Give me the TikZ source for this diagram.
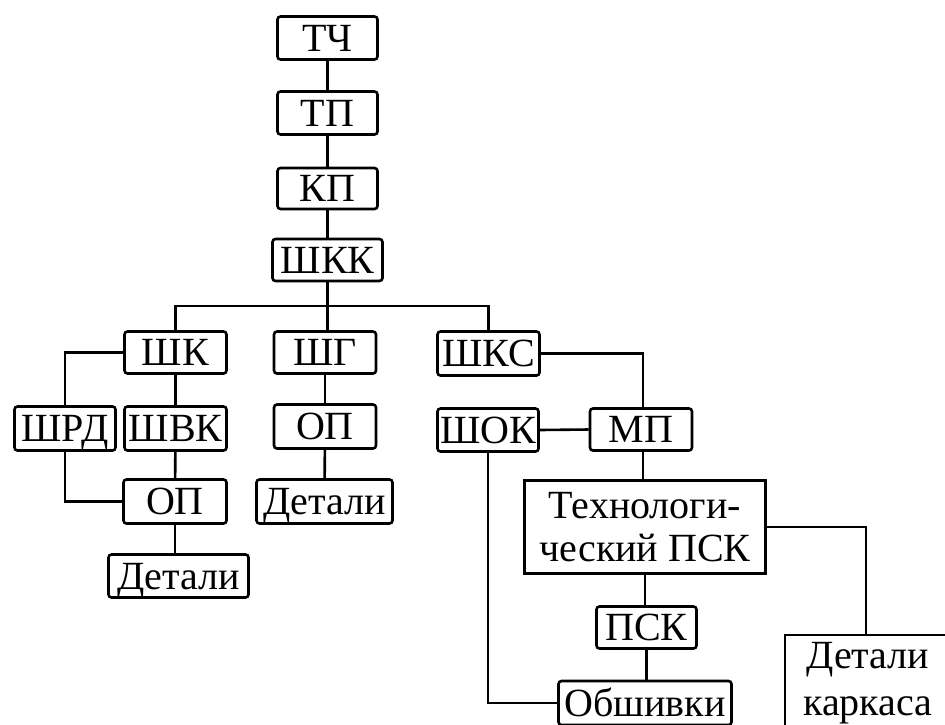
\documentclass[tikz,border=0pt]{standalone}
\usepackage{fontspec}
\setmainfont{Liberation Serif}
\begin{document}
\begin{tikzpicture}[x=1pt,y=-1pt,
  box/.style={draw, line width=2.6pt, rounded corners=3pt, inner sep=0pt, font=\fontsize{40}{43}\selectfont},
  one/.style={box, text height=26.5pt, text depth=0pt},
  sharpbox/.style={box, rounded corners=0pt, align=center},
  conn/.style={line width=2.6pt}]
\useasboundingbox (0,0) rectangle (945,724);
\clip (0,0) rectangle (945,724);
% top column
\node[one, minimum width=100pt, minimum height=43pt] (tch) at (327.5,38) {ТЧ};
\node[one, minimum width=100pt, minimum height=43pt] (tp) at (327.5,113) {ТП};
\node[one, minimum width=100pt, minimum height=41pt] (kp) at (327.5,188.5) {КП};
\node[one, minimum width=110pt, minimum height=42pt] (shkk) at (327.5,260) {ШКК};
% second level
\node[one, minimum width=102pt, minimum height=42pt] (shk) at (175.5,352.5) {ШК};
\node[one, minimum width=102pt, minimum height=42pt] (shg) at (325,352.5) {ШГ};
\node[one, minimum width=102pt, minimum height=44pt] (shks) at (488.5,353.5) {ШКС};
% left branch
\node[one, minimum width=101pt, minimum height=44pt] (shrd) at (65,428.5) {ШРД};
\node[one, minimum width=102pt, minimum height=44pt] (shvk) at (175.5,428.5) {ШВК};
\node[one, minimum width=103pt, minimum height=44pt] (op1) at (175,501.5) {ОП};
\node[one, minimum width=140pt, minimum height=43pt] (det1) at (178.5,576) {Детали};
% middle branch
\node[one, minimum width=102pt, minimum height=44pt] (op2) at (325,426.5) {ОП};
\node[one, minimum width=136pt, minimum height=44pt] (det2) at (324.5,501.5) {Детали};
% right branch
\node[one, minimum width=101pt, minimum height=43pt] (shok) at (488,430) {ШОК};
\node[one, minimum width=102pt, minimum height=42pt] (mp) at (641,429.5) {МП};
\node[sharpbox, minimum width=241pt, minimum height=93pt] (tpsk) at (645,527) {Технологи-\\ческий ПСК};
\node[one, minimum width=100pt, minimum height=42pt] (psk) at (646.5,627.5) {ПСК};
\node[one, minimum width=173pt, minimum height=44pt] (obsh) at (645,703) {Обшивки};
\node[sharpbox, anchor=north west, minimum width=166pt, minimum height=96pt,
      font=\fontsize{40}{47}\selectfont] (dk) at (783.5,633.5) {Детали\\каркаса};
\coordinate (bus) at (327.5,306);
% connectors
\draw[conn] (tch) -- (tp);
\draw[conn] (tp) -- (kp);
\draw[conn] (kp) -- (shkk);
\draw[conn] (shkk.south) -- (shkk.south |- shg.north);
\draw[conn] (shk.north) |- (bus) -| (shks.north);
\draw[conn] (shk.west) -| (shrd.north);
\draw[conn] (shrd.south) |- (op1.west);
\draw[conn] (shk) -- (shvk);
\draw[conn] (shvk) -- (op1);
\draw[conn] (op1.south) -- (op1.south |- det1.north);
\draw[conn] (shg) -- (op2);
\draw[conn] (op2) -- (det2);
\draw[conn] (shks.east) -| ([xshift=2pt]mp.north);
\draw[conn] (shok.east) -- (mp.west);
\draw[conn] ([xshift=2pt]mp.south) -- ([xshift=2pt]mp.south |- tpsk.north);
\draw[conn] (tpsk.east) -| ([xshift=-2pt]dk.north);
\draw[conn] (tpsk.south) -- (tpsk.south |- psk.north);
\draw[conn] (psk.south) -- (psk.south |- obsh.north);
\draw[conn] (shok.south) |- (obsh.west);
\end{tikzpicture}
\end{document}
